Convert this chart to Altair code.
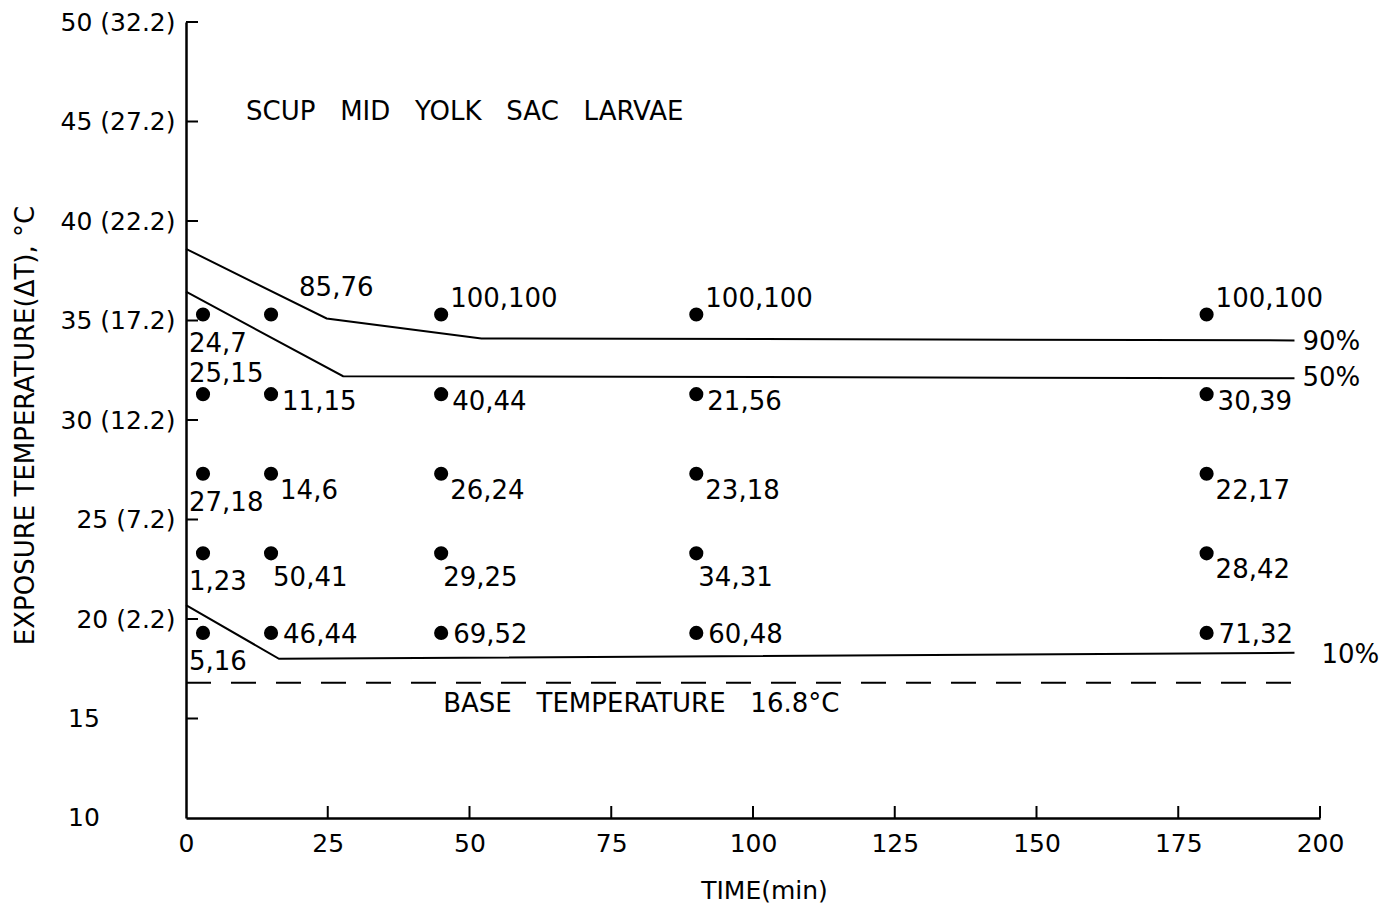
import altair as alt
import pandas as pd

# Exposure times (min) and exposure temperatures (deg C) of the test groups
times = [3, 15, 45, 90, 180]
temps = [35.3, 31.3, 27.3, 23.3, 19.3]

# Percent mortality pairs for each group, listed time by time, top row first
pair_labels = [
    "24,7", "25,15", "27,18", "1,23", "5,16",
    "85,76", "11,15", "14,6", "50,41", "46,44",
    "100,100", "40,44", "26,24", "29,25", "69,52",
    "100,100", "21,56", "23,18", "34,31", "60,48",
    "100,100", "30,39", "22,17", "28,42", "71,32",
]
# Where each pair label sits around its point
placements = [
    "below_left", "above_left", "below_left", "below_left", "below_left",
    "above_far", "right", "below_right", "below", "right_low",
    "above_right", "right", "below_right", "below", "right_low",
    "above_right", "right", "below_right", "below", "right_low",
    "above_right", "right", "below_right", "below_right", "right_low",
]

# Mortality isopleths (time, temperature)
curve_names = ["90%", "50%", "10%"]
curve_t = [
    [0, 24.8, 52.1, 195.5],
    [0, 27.7, 195.5],
    [0, 16.4, 195.5],
]
curve_temp = [
    [38.6, 35.1, 34.1, 34.0],
    [36.45, 32.2, 32.1],
    [20.7, 18.0, 18.3],
]

base_temp = 16.8
base_t = [0, 195.5]

x_ticks = [25, 50, 75, 100, 125, 150, 175, 200]
y_ticks = [15, 20, 25, 30, 35, 40, 45, 50]
# Upper labels carry the temperature rise above base in brackets
y_tick_text = {
    50: "50 (32.2)", 45: "45 (27.2)", 40: "40 (22.2)", 35: "35 (17.2)",
    30: "30 (12.2)", 25: "25 (7.2)", 20: "20 (2.2)",
}
# Plain labels at the bottom, set flush with the numbers above
y_plain = [15, 10]

FONT = "DejaVu Sans"
W, H = 1134, 796
GAP = " \u00a0\u00a0"

pts = pd.DataFrame({
    "t": [t for t in times for _ in temps],
    "temp": [v for _ in times for v in temps],
    "label": pair_labels,
    "place": placements,
})

curves = pd.DataFrame({
    "t": [t for ts in curve_t for t in ts],
    "temp": [v for vs in curve_temp for v in vs],
    "curve": [n for n, ts in zip(curve_names, curve_t) for _ in ts],
    "order": [i for ts in curve_t for i in range(len(ts))],
})
curve_ends = pd.DataFrame({
    "t": [ts[-1] for ts in curve_t],
    "temp": [vs[-1] for vs in curve_temp],
    "curve": curve_names,
})
base = pd.DataFrame({"t": base_t, "temp": [base_temp, base_temp]})

x_scale = alt.Scale(domain=[0, 200], nice=False, zero=False)
y_scale = alt.Scale(domain=[10, 50], nice=False, zero=False)

label_expr = " : ".join(
    f"datum.value == {k} ? '{v}'" for k, v in y_tick_text.items()
) + " : ''"

x_enc = alt.X(
    "t:Q", scale=x_scale,
    axis=alt.Axis(
        values=[0] + x_ticks, ticks=False, grid=False, domainColor="black",
        domainWidth=2.5, labelFont=FONT, labelFontSize=25, labelColor="black",
        labelPadding=13, labelFlush=False, labelOverlap=False,
        title="TIME(min)", titleFont=FONT, titleFontSize=25,
        titleFontWeight="normal", titleColor="black",
        titleX=578, titleY=72, titleAlign="center", titleBaseline="middle",
    ),
)
y_enc = alt.Y(
    "temp:Q", scale=y_scale,
    axis=alt.Axis(
        values=list(y_tick_text.keys()), ticks=False, grid=False,
        domainColor="black", domainWidth=2.5, labelFont=FONT,
        labelFontSize=25, labelColor="black", labelPadding=11,
        labelFlush=False, labelOverlap=False, labelExpr=label_expr,
        title="EXPOSURE  TEMPERATURE(ΔT), °C", titleFont=FONT,
        titleFontSize=26, titleFontWeight="normal", titleColor="black",
        titleX=-161, titleY=403, titleAngle=270, titleAlign="center",
        titleBaseline="middle",
    ),
)

lines = alt.Chart(curves).mark_line(color="black", strokeWidth=2).encode(
    x=x_enc, y=y_enc, detail="curve:N", order="order:Q"
)

base_line = alt.Chart(base).mark_line(
    color="black", strokeWidth=2, strokeDash=[25, 20]
).encode(x="t:Q", y="temp:Q")

base_label = alt.Chart(pd.DataFrame({"t": [80.3], "temp": [base_temp]})).mark_text(
    text=f"BASE{GAP}TEMPERATURE{GAP}16.8°C", font=FONT, fontSize=26,
    align="center", baseline="middle", dy=21, color="black",
).encode(x="t:Q", y="temp:Q")

dots = alt.Chart(pts).mark_point(
    filled=True, shape="circle", size=200, color="black", opacity=1
).encode(x="t:Q", y="temp:Q")

# Offsets (dx, dy) in pixels for each label placement
place_offsets = {
    "below_left": (-14, 29),
    "above_left": (-14, -20),
    "above_far": (28, -27),
    "above_right": (9, -16),
    "right": (11, 8),
    "right_low": (12, 2),
    "below_right": (9, 17),
    "below": (2, 25),
}
label_layers = []
for name, (dx, dy) in place_offsets.items():
    label_layers.append(
        alt.Chart(pts).transform_filter(alt.datum.place == name).mark_text(
            font=FONT, fontSize=26, align="left", baseline="middle",
            dx=dx, dy=dy, color="black",
        ).encode(x="t:Q", y="temp:Q", text="label:N")
    )

end_offsets = {"90%": (8, 2), "50%": (8, 0), "10%": (27, 2)}
end_layers = []
for name, (dx, dy) in end_offsets.items():
    end_layers.append(
        alt.Chart(curve_ends).transform_filter(alt.datum.curve == name).mark_text(
            font=FONT, fontSize=26, align="left", baseline="middle",
            dx=dx, dy=dy, color="black",
        ).encode(x="t:Q", y="temp:Q", text="curve:N")
    )

plain_labels = alt.Chart(pd.DataFrame({"temp": y_plain})).mark_text(
    font=FONT, fontSize=25, align="left", baseline="middle", color="black",
).encode(
    y="temp:Q", x=alt.value(-118),
    text=alt.Text("temp:Q", format="d"),
)

# Inward-pointing tick marks on both axes
y_tick_marks = alt.Chart(pd.DataFrame({"temp": y_ticks})).mark_rule(
    color="black", strokeWidth=2
).encode(y="temp:Q", x=alt.value(0), x2=alt.value(12))
x_tick_marks = alt.Chart(pd.DataFrame({"t": x_ticks})).mark_rule(
    color="black", strokeWidth=2
).encode(x="t:Q", y=alt.value(H), y2=alt.value(H - 12))

title = alt.Chart(pd.DataFrame({"t": [0]})).mark_text(
    text=f"SCUP{GAP}MID{GAP}YOLK{GAP}SAC{GAP}LARVAE", font=FONT, fontSize=26,
    align="left", baseline="middle", color="black",
).encode(x=alt.value(60), y=alt.value(90))

chart = alt.layer(
    lines, base_line, base_label, dots, *label_layers, *end_layers,
    plain_labels, y_tick_marks, x_tick_marks, title,
).properties(
    width=W, height=H,
    padding={"left": 186, "top": 22, "right": 71, "bottom": 99},
    autosize=alt.AutoSizeParams(type="none"),
    background="white",
).configure_view(stroke=None)

chart.save("out.html", embed_options={"renderer": "svg", "actions": False})
